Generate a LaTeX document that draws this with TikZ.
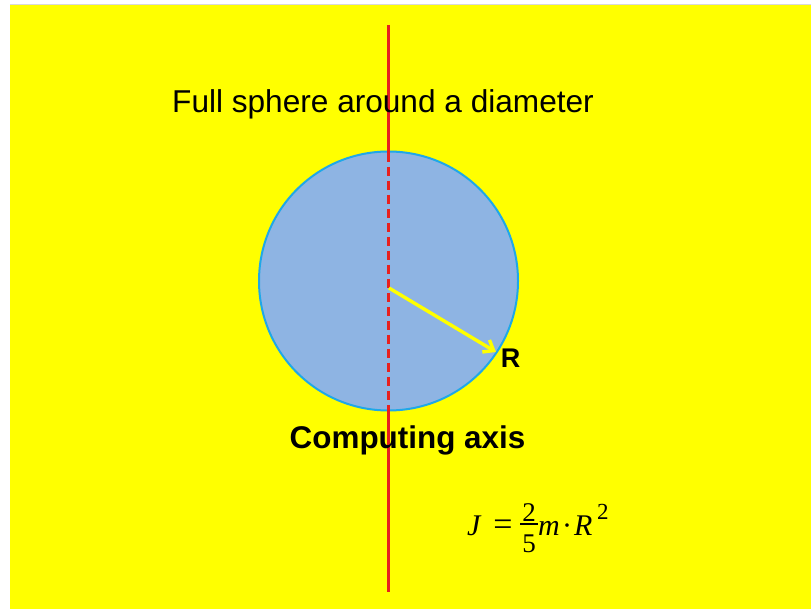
\documentclass[tikz,border=0pt]{standalone}
\usepackage{fontspec}
\setmainfont{Liberation Sans}
\newfontfamily\timesf{Liberation Serif}
\usetikzlibrary{arrows.meta}
\definecolor{bgyellow}{HTML}{FFFF00}
\definecolor{spherefill}{HTML}{8EB4E3}
\definecolor{spheredraw}{HTML}{1FA8E8}
\definecolor{axisred}{HTML}{E8201E}
\tikzset{
  title/.style={font=\fontsize{31.6}{36}\selectfont, anchor=base, inner sep=0pt},
  boldlabel/.style={font=\fontsize{31.4}{36}\selectfont\bfseries, anchor=base, inner sep=0pt},
  rlabel/.style={font=\fontsize{27}{30}\selectfont\bfseries, anchor=base, inner sep=0pt},
  formula/.style={font=\fontsize{30}{34}\selectfont\timesf, anchor=base, inner sep=0pt},
  fracdigit/.style={font=\fontsize{27}{30}\selectfont\timesf, anchor=base, inner sep=0pt},
  supscript/.style={font=\fontsize{23}{26}\selectfont\timesf, anchor=base west, inner sep=0pt},
  axisline/.style={draw=axisred, line width=3pt},
  axisdash/.style={draw=axisred, line width=3pt, dash pattern=on 9pt off 5pt},
  radius arrow/.style={draw=bgyellow, line width=3.4pt, -{Straight Barb[length=9pt,width=14pt,line width=3.4pt]}},
}
\begin{document}
\begin{tikzpicture}[x=1pt,y=-1pt]
  \useasboundingbox (0,0) rectangle (811,609);
  \fill[white] (0,0) rectangle (811,609);
  \fill[bgyellow] (10,4) rectangle (811,609);
  \draw[gray!30, line width=0.6pt] (10,4) -- (811,4);
  % sphere
  \node[circle, fill=spherefill, draw=spheredraw, line width=2pt, minimum size=259pt, inner sep=0pt] (sphere) at (388.5,281) {};
  % axis
  \coordinate (axtop) at (388,25);
  \coordinate (axbot) at (388,592);
  \coordinate (stop) at (388,153);
  \coordinate (sbot) at (388,409);
  \draw[axisline] (axtop) -- (stop);
  \draw[axisdash] (stop) -- (sbot);
  \draw[axisline] (sbot) -- (axbot);
  % radius arrow
  \coordinate (rstart) at (389,288);
  \coordinate (rend) at (496,352);
  \draw[radius arrow] (rstart) -- (rend);
  % labels
  \node[title] (ttl) at (383,113) {Full sphere around a diameter};
  \node[boldlabel] (cax) at (407.5,448) {Computing axis};
  \node[rlabel] (rl) at (510.5,368) {R};
  % formula
  \node[formula, anchor=base west] (eqJ) at (467,535) {\itshape J};
  \node[formula, font=\fontsize{34}{38}\selectfont\timesf] (eqeq) at (503,535) {=};
  \node[fracdigit] (eqnum) at (529,521) {2};
  \node[fracdigit] (eqden) at (529,552.5) {5};
  \coordinate (barl) at (520,524);
  \coordinate (barr) at (537.5,524);
  \draw[line width=1.5pt] (barl) -- (barr);
  \node[formula, anchor=base west] (eqm) at (538,535) {\itshape m};
  \node[formula] (eqdot) at (567,535) {\textperiodcentered};
  \node[formula, anchor=base west] (eqR) at (574,535) {\itshape R};
  \node[supscript] (eqsup) at (597,519) {2};
\end{tikzpicture}
\end{document}
